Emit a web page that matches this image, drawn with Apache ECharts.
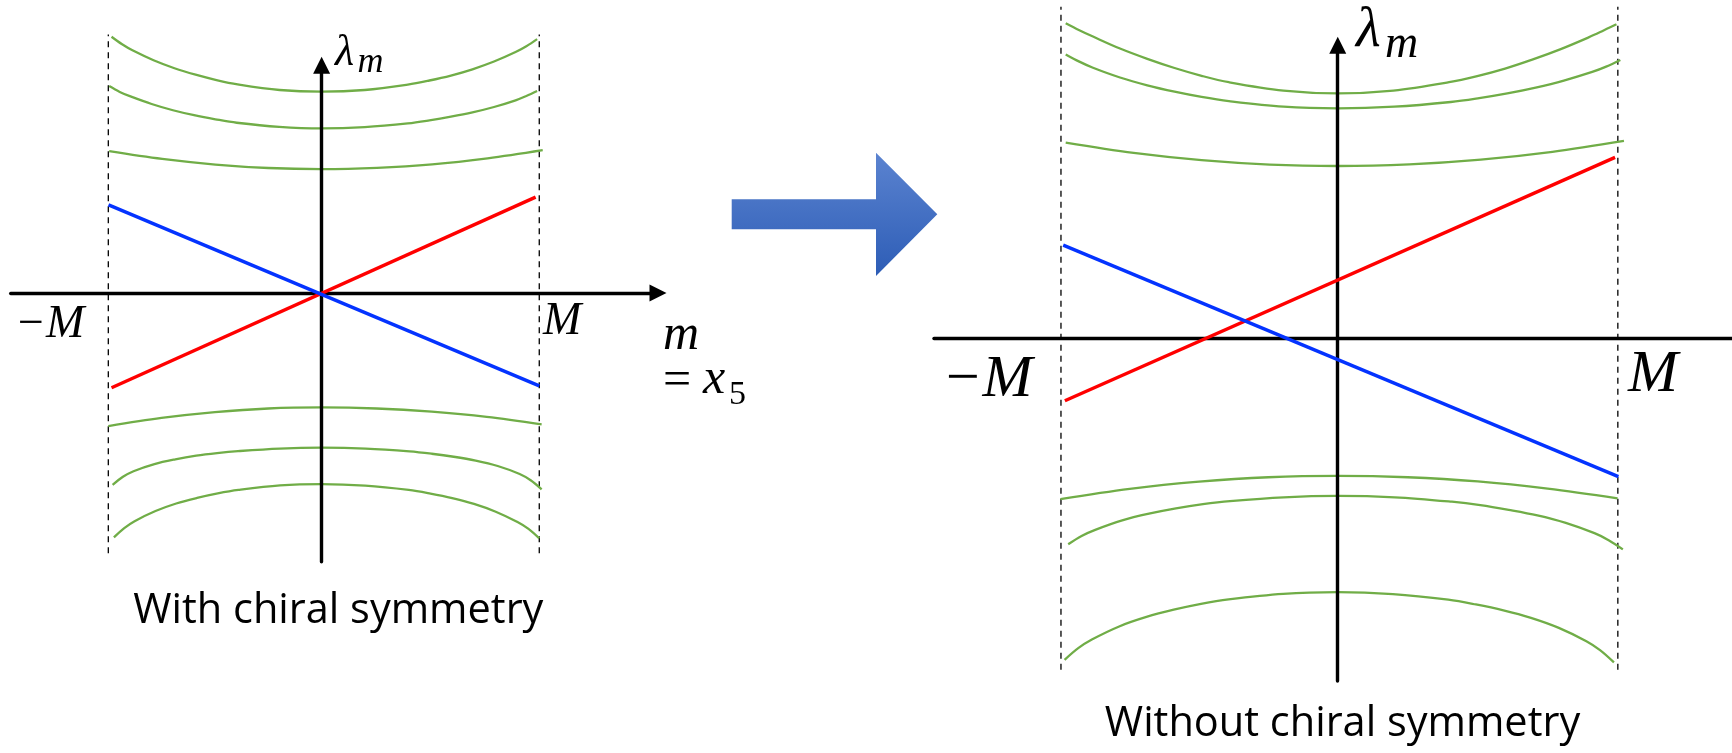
<!DOCTYPE html>
<html>
<head>
<meta charset="utf-8">
<script src="https://cdn.jsdelivr.net/npm/echarts@6/dist/echarts.min.js"></script>
<style>
  html, body { margin: 0; padding: 0; background: #ffffff; }
  #chart { width: 1732px; height: 753px; }
</style>
</head>
<body>
<div id="chart"></div>
<script>
// Eigenvalues λ_m against the mass m (in units of M), with and without chiral symmetry.

// ---- left panel: with chiral symmetry ----
const leftEdges = [-0.990, 1.010];          // m = -M and m = M
const leftEdgeSpan = [-1.208, 1.199];       // vertical extent of the dashed edges
const leftRed = [[-0.975, -0.440], [0.993, 0.445]];
const leftBlue = [[-0.989, 0.409], [1.010, -0.431]];
const leftBand1 = [[-0.975, 1.189], [-0.926, 1.154], [-0.878, 1.126], [-0.780, 1.080], [-0.683, 1.043], [-0.585, 1.013], [-0.488, 0.988], [-0.390, 0.968], [-0.195, 0.942], [0, 0.934],
                   [0.200, 0.942], [0.400, 0.967], [0.500, 0.986], [0.600, 1.009], [0.700, 1.038], [0.800, 1.074], [0.900, 1.118], [0.950, 1.145], [1.000, 1.178]];
const leftBand2 = [[-0.986, 0.960], [-0.937, 0.933], [-0.887, 0.912], [-0.789, 0.877], [-0.690, 0.848], [-0.592, 0.825], [-0.493, 0.806], [-0.394, 0.790], [-0.197, 0.771], [0, 0.764],
                   [0.200, 0.770], [0.400, 0.787], [0.500, 0.801], [0.600, 0.818], [0.700, 0.838], [0.800, 0.863], [0.900, 0.894], [0.950, 0.914], [1.000, 0.937]];
const leftBand3 = [[-0.986, 0.658], [-0.740, 0.622], [-0.493, 0.596], [-0.247, 0.580], [0, 0.575], [0.257, 0.581], [0.513, 0.597], [0.770, 0.625], [1.026, 0.663]];
const leftBand4 = [[-0.990, -0.618], [-0.743, -0.580], [-0.495, -0.553], [-0.248, -0.536], [0, -0.531], [0.255, -0.536], [0.511, -0.551], [0.766, -0.575], [1.021, -0.610]];
const leftBand5 = [[-0.970, -0.891], [-0.922, -0.853], [-0.873, -0.827], [-0.776, -0.794], [-0.679, -0.772], [-0.582, -0.755], [-0.485, -0.743], [-0.388, -0.734], [-0.194, -0.722], [0, -0.718],
                   [0.204, -0.722], [0.408, -0.735], [0.511, -0.746], [0.613, -0.760], [0.715, -0.778], [0.817, -0.803], [0.919, -0.840], [0.970, -0.869], [1.021, -0.911]];
const leftBand6 = [[-0.964, -1.134], [-0.916, -1.091], [-0.868, -1.059], [-0.771, -1.012], [-0.675, -0.977], [-0.578, -0.951], [-0.482, -0.930], [-0.386, -0.914], [-0.193, -0.893], [0, -0.887],
                   [0.202, -0.894], [0.404, -0.914], [0.505, -0.931], [0.606, -0.952], [0.707, -0.979], [0.808, -1.015], [0.909, -1.063], [0.960, -1.095], [1.010, -1.139]];

// ---- right panel: without chiral symmetry ----
const rightEdges = [-0.994, 1.006];
const rightEdgeSpan = [-1.193, 1.189];
const rightRed = [[-0.980, -0.226], [0.996, 0.648]];
const rightBlue = [[-0.986, 0.333], [1.008, -0.499]];
const rightBand1 = [[-0.977, 1.130], [-0.928, 1.105], [-0.879, 1.082], [-0.782, 1.039], [-0.684, 1.002], [-0.586, 0.969], [-0.489, 0.941], [-0.391, 0.918], [-0.195, 0.888], [0, 0.878],
                    [0.200, 0.888], [0.400, 0.918], [0.501, 0.940], [0.601, 0.967], [0.701, 1.000], [0.801, 1.037], [0.901, 1.079], [0.951, 1.102], [1.001, 1.126]];
const rightBand2 = [[-0.977, 1.018], [-0.928, 0.992], [-0.879, 0.970], [-0.782, 0.935], [-0.684, 0.907], [-0.586, 0.884], [-0.489, 0.865], [-0.391, 0.850], [-0.195, 0.830], [0, 0.824],
                    [0.203, 0.830], [0.406, 0.847], [0.508, 0.861], [0.609, 0.878], [0.711, 0.899], [0.812, 0.924], [0.914, 0.955], [0.964, 0.974], [1.015, 0.998]];
const rightBand3 = [[-0.977, 0.701], [-0.733, 0.664], [-0.489, 0.638], [-0.244, 0.622], [0, 0.617], [0.257, 0.623], [0.514, 0.640], [0.771, 0.668], [1.028, 0.707]];
const rightBand4 = [[-0.996, -0.580], [-0.747, -0.543], [-0.498, -0.517], [-0.249, -0.501], [0, -0.496], [0.251, -0.501], [0.503, -0.516], [0.754, -0.542], [1.005, -0.577]];
const rightBand5 = [[-0.968, -0.742], [-0.920, -0.712], [-0.871, -0.690], [-0.774, -0.656], [-0.678, -0.632], [-0.581, -0.613], [-0.484, -0.598], [-0.387, -0.587], [-0.194, -0.573], [0, -0.568],
                    [0.205, -0.573], [0.410, -0.589], [0.512, -0.601], [0.614, -0.618], [0.717, -0.638], [0.819, -0.665], [0.922, -0.702], [0.973, -0.727], [1.024, -0.760]];
const rightBand6 = [[-0.981, -1.157], [-0.932, -1.115], [-0.883, -1.084], [-0.785, -1.037], [-0.687, -1.003], [-0.589, -0.977], [-0.491, -0.956], [-0.392, -0.940], [-0.196, -0.920], [0, -0.914],
                    [0.198, -0.921], [0.397, -0.941], [0.496, -0.958], [0.595, -0.979], [0.694, -1.006], [0.794, -1.042], [0.893, -1.090], [0.942, -1.122], [0.992, -1.166]];

const captions = ['With chiral symmetry', 'Without chiral symmetry'];

const GREEN = '#70AD47';
const RED = '#FF0000';
const BLUE = '#0433FF';
const MATH = '"Liberation Serif", "DejaVu Serif", serif';
const SANS = '"Open Sans", Lato, sans-serif';

function panelSeries(gi, edges, span, bands, red, blue) {
  const out = [];
  edges.forEach(function (x) {
    out.push({
      type: 'line', xAxisIndex: gi, yAxisIndex: gi, clip: false, silent: true,
      symbol: 'none', z: 1,
      lineStyle: { color: '#000000', width: 1.3, type: [6, 5] },
      data: [[x, span[0]], [x, span[1]]]
    });
  });
  bands.forEach(function (b) {
    out.push({
      type: 'line', xAxisIndex: gi, yAxisIndex: gi, clip: false, silent: true,
      symbol: 'none', smooth: 0.35, z: 1,
      lineStyle: { color: GREEN, width: 2.3 },
      data: b
    });
  });
  [[red, RED], [blue, BLUE]].forEach(function (p) {
    out.push({
      type: 'line', xAxisIndex: gi, yAxisIndex: gi, clip: false, silent: true,
      symbol: 'none', z: 5,
      lineStyle: { color: p[1], width: 3.4 },
      data: p[0]
    });
  });
  return out;
}

function axisBase(gi, min, max, arrow) {
  return {
    gridIndex: gi, type: 'value', min: min, max: max, z: 3,
    axisLine: {
      show: true, onZero: true,
      lineStyle: { color: '#000000', width: 3.4 },
      symbol: arrow ? ['none', 'triangle'] : 'none',
      symbolSize: [17, 17]
    },
    axisTick: { show: false },
    axisLabel: { show: false },
    splitLine: { show: false }
  };
}

// text placed by its baseline (the em-box middle sits about 0.34em above it)
function mathText(str, x, baseline, size, italic, align) {
  return {
    type: 'text', x: x, y: baseline - 0.3375 * size, silent: true,
    style: {
      text: str, fill: '#000000', align: align || 'left', verticalAlign: 'middle',
      font: (italic ? 'italic ' : '') + size + 'px ' + MATH
    }
  };
}
function captionText(str, cx, baseline, size) {
  return {
    type: 'text', x: cx, y: baseline - 0.29 * size, silent: true,
    style: {
      text: str, fill: '#000000', align: 'center', verticalAlign: 'middle',
      font: size + 'px ' + SANS
    }
  };
}

const chart = echarts.init(document.getElementById('chart'), null, { renderer: 'canvas' });

const option = {
  backgroundColor: '#ffffff',
  animation: false,
  grid: [
    { left: 10.7, top: 65.2, width: 647.3, height: 496.5 },
    { left: 934, top: 45.2, width: 798, height: 635.8 }
  ],
  xAxis: [
    axisBase(0, -1.443, 1.561, true),
    axisBase(1, -1.450, 1.416, false)
  ],
  yAxis: [
    axisBase(0, -1.247, 1.057, true),
    axisBase(1, -1.233, 1.051, true)
  ],
  series: [].concat(
    panelSeries(0, leftEdges, leftEdgeSpan,
      [leftBand1, leftBand2, leftBand3, leftBand4, leftBand5, leftBand6], leftRed, leftBlue),
    panelSeries(1, rightEdges, rightEdgeSpan,
      [rightBand1, rightBand2, rightBand3, rightBand4, rightBand5, rightBand6], rightRed, rightBlue)
  ),
  graphic: [
    // transition arrow between the panels
    {
      type: 'polygon', silent: true,
      shape: { points: [[731.7, 199.3], [876, 199.3], [876, 152.7], [937.3, 214.3], [876, 276], [876, 229.3], [731.7, 229.3]] },
      style: {
        fill: new echarts.graphic.LinearGradient(0, 0, 0, 1, [
          { offset: 0, color: '#5b83d0' },
          { offset: 1, color: '#2d5db6' }
        ])
      }
    },
    // left panel labels
    mathText('λ', 335, 68.5, 44, true),
    mathText('m', 357.5, 75, 36, true),
    mathText('\u2212M', 15, 340, 46, true),
    mathText('M', 543, 337.3, 46, true),
    mathText('m', 663, 352.5, 50, true),
    mathText('=', 663, 399, 50, false),
    mathText('x', 703, 397, 50, true),
    mathText('5', 729, 406.7, 34, false),
    // right panel labels
    mathText('λ', 1356, 50, 57, true),
    mathText('m', 1385, 60, 46, true),
    mathText('\u2212M', 942, 400, 60, true),
    mathText('M', 1628, 395, 60, true),
    // captions
    captionText(captions[0], 338.3, 623.3, 41.5),
    captionText(captions[1], 1342.5, 736.7, 41.5)
  ]
};

chart.setOption(option);
</script>
</body>
</html>
